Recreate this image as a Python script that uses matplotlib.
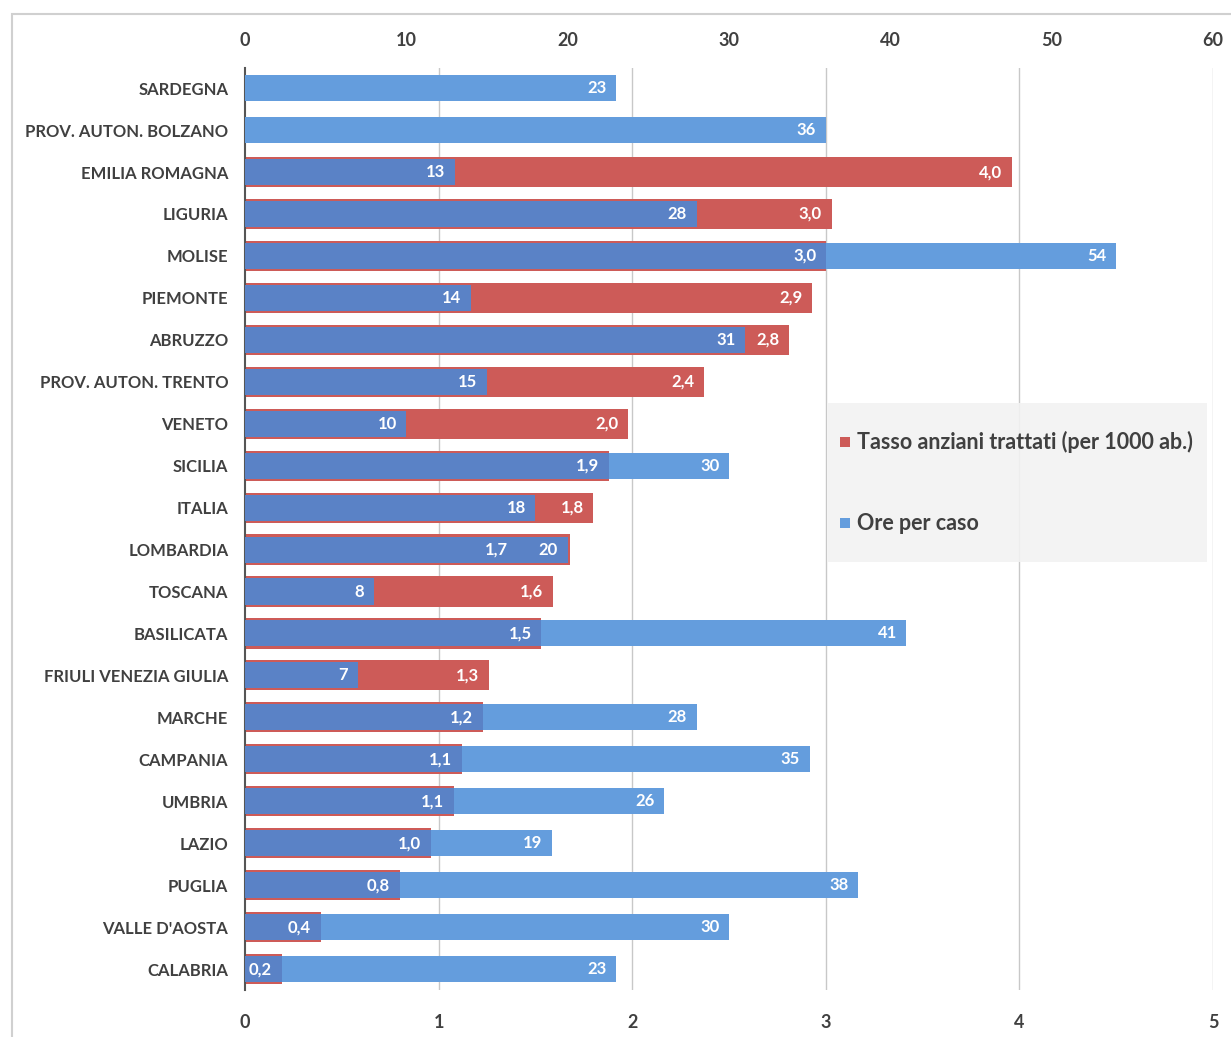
import matplotlib
matplotlib.use("Agg")
import matplotlib.pyplot as plt
from matplotlib.patches import Rectangle

regions = ["SARDEGNA", "PROV. AUTON. BOLZANO", "EMILIA ROMAGNA", "LIGURIA", "MOLISE",
           "PIEMONTE", "ABRUZZO", "PROV. AUTON. TRENTO", "VENETO", "SICILIA", "ITALIA",
           "LOMBARDIA", "TOSCANA", "BASILICATA", "FRIULI VENEZIA GIULIA", "MARCHE",
           "CAMPANIA", "UMBRIA", "LAZIO", "PUGLIA", "VALLE D'AOSTA", "CALABRIA"]
tasso = [None, None, 3.96, 3.03, 3.0, 2.93, 2.81, 2.37, 1.98, 1.88, 1.80,
         1.68, 1.59, 1.53, 1.26, 1.23, 1.12, 1.08, 0.96, 0.80, 0.39, 0.19]
ore = [23, 36, 13, 28, 54, 14, 31, 15, 10, 30, 18, 20, 8, 41, 7, 28, 35, 26, 19, 38, 30, 23]
bottom_ticks = [0, 1, 2, 3, 4, 5]
top_ticks = [0, 10, 20, 30, 40, 50, 60]
legend_labels = ["Tasso anziani trattati (per 1000 ab.)", "Ore per caso"]

RED = "#cd5b58"
BLUE = "#649ddd"
DARK = "#5a82c6"
TXT = "#404040"
FONT = ["Lato", "DejaVu Sans"]

plt.rcParams["font.family"] = FONT

W, H = 1231, 1037
fig = plt.figure(figsize=(W / 100, H / 100), dpi=100)
fig.patches.append(Rectangle((12 / W, -0.1), 1.2, (H - 14) / H + 0.1, transform=fig.transFigure,
                             fill=False, edgecolor="#d0d0d0", linewidth=1.5))

ax = fig.add_axes([245 / W, 47 / H, (1213 - 245) / W, (990 - 68) / H])
ax2 = ax.twiny()

n = len(regions)
y = list(range(n))
ratio = top_ticks[-1] / bottom_ticks[-1]

# red bars (bottom axis)
for i, v in enumerate(tasso):
    if v is not None:
        ax.barh(i, v, height=0.72, color=RED, zorder=2)

# blue bars (top axis)
ax2.barh(y, ore, height=0.62, color=BLUE, zorder=3)
# overlap region
for i, (v, o) in enumerate(zip(tasso, ore)):
    if v is not None:
        ax2.barh(i, min(v * ratio, o), height=0.62, color=DARK, zorder=4)

ax.set_xlim(0, bottom_ticks[-1])
ax2.set_xlim(0, top_ticks[-1])
ax.set_ylim(n - 0.5, -0.48)
ax2.set_ylim(n - 0.5, -0.48)

ax.set_xticks(bottom_ticks)
ax2.set_xticks(top_ticks)
ax.set_yticks(y)
ax.set_yticklabels(regions)
ax.tick_params(axis="y", length=0, pad=12, labelsize=12, labelcolor=TXT)
ax.tick_params(axis="x", length=0, pad=17, labelsize=13, labelcolor=TXT)
ax2.tick_params(axis="x", length=0, pad=14, labelsize=13, labelcolor=TXT)
for lab in ax.get_yticklabels() + ax.get_xticklabels() + ax2.get_xticklabels():
    lab.set_fontweight("bold")

for a in (ax, ax2):
    for s in ("top", "bottom", "right"):
        a.spines[s].set_visible(False)
ax.spines["left"].set_color("#555555")
ax.spines["left"].set_linewidth(1.5)
ax2.spines["left"].set_visible(False)
ax.spines["left"].set_zorder(6)

for t in bottom_ticks[1:]:
    ax.axvline(t, color="#c8c8c8", linewidth=1.0, zorder=1)

# value labels (all drawn on the top axes so they stay above the bars)
fmt_kw = dict(color="white", fontsize=12, fontweight="bold", ha="right", va="center", zorder=7)
for i, (v, o) in enumerate(zip(tasso, ore)):
    ax2.annotate(f"{o}", (o, i), xytext=(-7, 0), textcoords="offset points", **fmt_kw)
    if v is not None:
        off = -7
        if abs(v * ratio - o) * (968 / 60) < 20:
            off = -45
        ax2.annotate(f"{v:.1f}".replace(".", ","), (v * ratio, i), xytext=(off, 0),
                     textcoords="offset points", **fmt_kw)

# legend box
lx0, ly0, lx1, ly1 = 828, 403, 1207, 562
ax2.add_patch(Rectangle((lx0 / W, 1 - ly1 / H), (lx1 - lx0) / W, (ly1 - ly0) / H,
                        transform=fig.transFigure, facecolor="#f2f2f2", edgecolor="none",
                        alpha=0.9, zorder=8, clip_on=False))
for (cy, col, lab) in [(442, RED, legend_labels[0]), (523, BLUE, legend_labels[1])]:
    ax2.add_patch(Rectangle((840 / W, 1 - (cy + 5) / H), 10 / W, 10 / H, transform=fig.transFigure,
                            facecolor=col, edgecolor="none", zorder=9, clip_on=False))
    fig.text(857 / W, 1 - cy / H, lab, fontsize=15.5, fontweight="bold", color=TXT,
             va="center", ha="left", zorder=10)

fig.savefig("out.png", dpi=100, facecolor="white")
